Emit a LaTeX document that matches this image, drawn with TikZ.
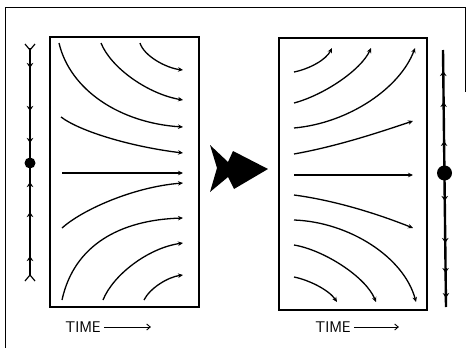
\documentclass[tikz,border=0pt]{standalone}
\usetikzlibrary{arrows.meta}
\begin{document}
\begin{tikzpicture}[x=1pt,y=-1pt,>={Stealth[length=5pt,width=4.5pt]},
  flow/.style={line width=1.3pt,->},
  panel/.style={draw,line width=1.2pt},
  phase/.style={line width=2.4pt},
  tick/.style={line width=1.2pt,-{Stealth[length=5pt,width=6.5pt]}},
  timelbl/.style={font=\sffamily\fontsize{15.5}{15.5}\selectfont,inner sep=3pt},
  timearrow/.style={line width=0.9pt,-{Straight Barb[length=3.5pt,width=6pt]}}]
\useasboundingbox (0,0) rectangle (466,348);
% edge of the scanned page
\draw[line width=0.8pt] (465,92) -- (465,7) -- (5,7) -- (5,348);
% (a) solutions run into the middle, stable point
\begin{scope}
\draw[panel] (50,37) rectangle (199,307);
\draw[flow] (62,173) -- (183,173);
\foreach \xa/\ya/\ua/\va/\xb/\yb/\ub/\vb in {140/43/4/13/183/70/-17/-2,101/43/10/25/183/100/-35/-6,59/43/11/47/183/127/-63/-4,61/117/20/15/183/153/-50/-6,62/228/20/-18/183/183/-50/4,62/300/12/-55/183/218/-63/2,103/300/10/-25/183/243/-35/5,144/300/6/-12/183/275/-15/2}
  \draw[flow] (\xa,\ya) .. controls +(\ua,\va) and +(\ub,\vb) .. (\xb,\yb);
\draw[phase] (30,48) -- (30,276);
\draw[line width=1.2pt] (25,44) -- (30,50) -- (35,44);
\draw[line width=1.2pt] (25,281) -- (30,275) -- (35,281);
\foreach \y in {67,110,142} \draw[tick] (30,\y-5) -- (30,\y+1);
\foreach \y in {183,213,257} \draw[tick] (30,\y+5) -- (30,\y-1);
\fill (30,163) circle (5.5pt);
\node[timelbl] (tl) at (83,327) {TIME};
\draw[timearrow] (tl.east) -- ++(47,0);
\end{scope}
% the change
\fill (210,145) -- (228,162) -- (233,151) -- (268,169) -- (234,189) -- (228,177) -- (210,192) -- (217,168) -- cycle;
% (b) solutions run away from the middle, unstable point
\begin{scope}
\draw[panel] (279,38) rectangle (427,310);
\draw[flow] (294,175) -- (413,175);
\foreach \xa/\ya/\ua/\va/\xb/\yb/\ub/\vb in {294/72/15/-3/332/48/-6/12,294/103/30/-8/371/48/-10/22,294/128/55/-5/415/48/-15/40,294/154/45/-8/413/121/-30/10,294/195/45/6/413/228/-30/-12,294/220/55/2/416/302/-12/-45,294/245/30/5/376/302/-10/-25,294/277/15/3/337/302/-8/-12}
  \draw[flow] (\xa,\ya) .. controls +(\ua,\va) and +(\ub,\vb) .. (\xb,\yb);
\draw[phase] (443,50) -- (446,307);
\foreach \y in {72,103,142} \draw[tick] ({443+3*(\y-50)/257},\y+5) -- ({443+3*(\y-50)/257},\y-1);
\foreach \y in {200,242,272,297} \draw[tick] ({443+3*(\y-50)/257},\y-5) -- ({443+3*(\y-50)/257},\y+1);
\fill (444.5,173) circle (7.5pt);
\node[timelbl] (tr) at (333,327) {TIME};
\draw[timearrow] (tr.east) -- ++(45,0);
\end{scope}
\end{tikzpicture}
\end{document}
